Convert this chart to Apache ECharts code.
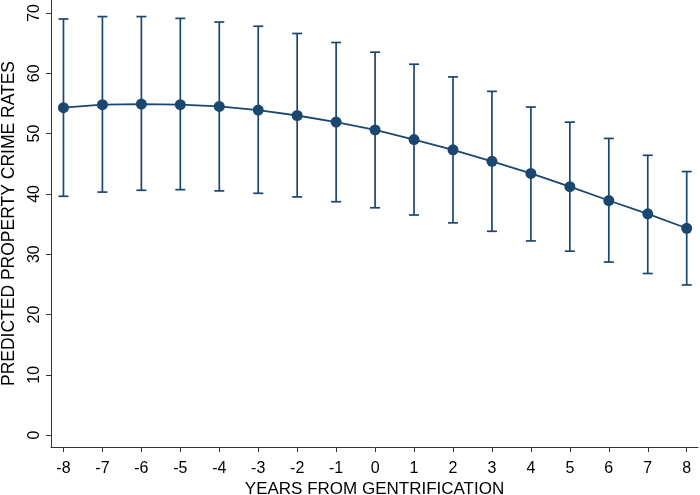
<!DOCTYPE html>
<html>
<head>
<meta charset="utf-8">
<script src="https://cdn.jsdelivr.net/npm/echarts@6/dist/echarts.min.js"></script>
<style>
html,body{margin:0;padding:0;background:#fff;}
#chart{width:700px;height:495px;}
</style>
</head>
<body>
<div id="chart"></div>
<script>
const years = [-8,-7,-6,-5,-4,-3,-2,-1,0,1,2,3,4,5,6,7,8];
const predicted = [54.3,54.8,54.9,54.8,54.5,53.9,53.0,51.9,50.6,49.0,47.3,45.4,43.4,41.2,38.9,36.7,34.3];
const upper = [69.0,69.4,69.4,69.1,68.5,67.8,66.6,65.1,63.5,61.5,59.4,57.0,54.4,51.9,49.2,46.4,43.7];
const lower = [39.6,40.3,40.6,40.7,40.5,40.1,39.5,38.7,37.7,36.5,35.2,33.8,32.2,30.5,28.7,26.8,24.9];
const yTicks = [0,10,20,30,40,50,60,70];
const xTitle = 'YEARS FROM GENTRIFICATION';
const yTitle = 'PREDICTED PROPERTY CRIME RATES';

const navy = '#1a476f';
const font = 'Liberation Sans, Arial, Helvetica, sans-serif';
const chart = echarts.init(document.getElementById('chart'), null, {renderer:'canvas'});

const lineData = years.map((x,i)=>[x,predicted[i]]);
const barData = years.map((x,i)=>[x,lower[i],upper[i]]);

chart.setOption({
  animation:false,
  backgroundColor:'#ffffff',
  grid:{left:51,right:2,top:0,bottom:48,containLabel:false,outerBoundsMode:'none'},
  xAxis:{
    type:'value', min:-8.32, max:8.29,
    name:xTitle, nameLocation:'middle', nameGap:34, nameMoveOverlap:false,
    nameTextStyle:{fontFamily:font,fontSize:17,color:'#000'},
    axisLine:{show:true,onZero:false,lineStyle:{color:'#333',width:1}},
    axisTick:{show:true,length:5,lineStyle:{color:'#333'},customValues:years},
    axisLabel:{show:true,fontFamily:font,fontSize:16,color:'#000',margin:14,customValues:years},
    splitLine:{show:false}
  },
  yAxis:{
    type:'value', min:-1.97, max:72.15,
    name:yTitle, nameLocation:'middle', nameGap:33, nameRotate:90, nameMoveOverlap:false,
    nameTextStyle:{fontFamily:font,fontSize:17.5,color:'#000'},
    axisLine:{show:true,onZero:false,lineStyle:{color:'#333',width:1}},
    axisTick:{show:true,length:5,lineStyle:{color:'#333'},customValues:yTicks},
    axisLabel:{show:true,fontFamily:font,fontSize:16,color:'#000',margin:8,rotate:90,customValues:yTicks},
    splitLine:{show:false}
  },
  series:[
    {
      type:'custom',
      data:barData,
      encode:{x:0,y:[1,2]},
      renderItem:function(params,api){
        const x = api.value(0);
        const lo = api.coord([x,api.value(1)]);
        const hi = api.coord([x,api.value(2)]);
        const hw = 5;
        const style = {stroke:navy,lineWidth:1.7,fill:null};
        return {type:'group',children:[
          {type:'line',shape:{x1:lo[0],y1:lo[1],x2:hi[0],y2:hi[1]},style:style},
          {type:'line',shape:{x1:lo[0]-hw,y1:lo[1],x2:lo[0]+hw,y2:lo[1]},style:style},
          {type:'line',shape:{x1:hi[0]-hw,y1:hi[1],x2:hi[0]+hw,y2:hi[1]},style:style}
        ]};
      },
      z:2
    },
    {
      type:'line',
      data:lineData,
      smooth:false,
      symbol:'circle',
      symbolSize:11,
      lineStyle:{color:navy,width:1.8},
      itemStyle:{color:navy},
      z:3
    }
  ]
});
</script>
</body>
</html>
